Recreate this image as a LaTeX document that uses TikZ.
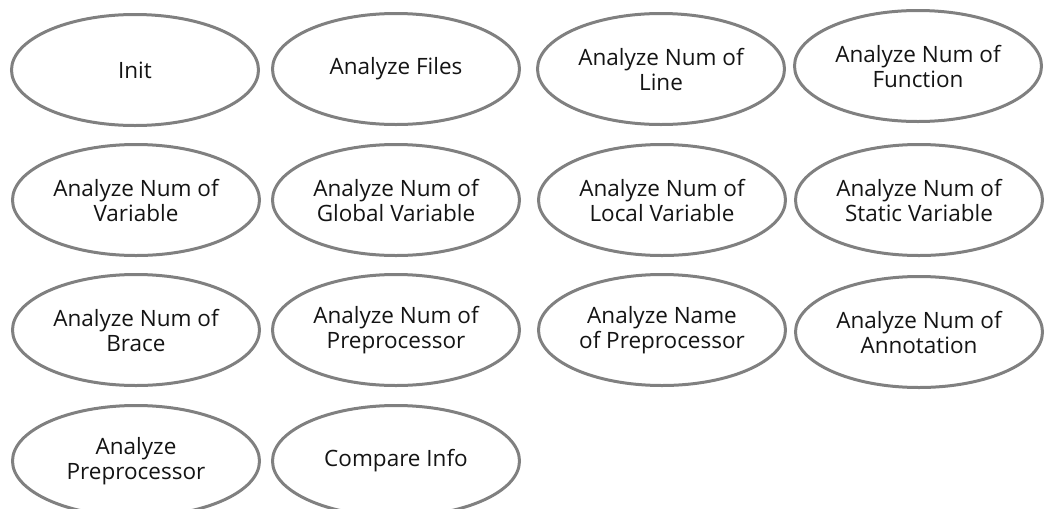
\documentclass[tikz,border=0pt]{standalone}
\usepackage{fontspec}
\setmainfont{Open Sans}
\usepackage{tikz}
\usetikzlibrary{shapes.geometric, positioning}
\definecolor{rimgray}{RGB}{128,128,128}
\definecolor{textblack}{RGB}{20,20,20}

\begin{document}
\begin{tikzpicture}[x=1pt, y=-1pt,
    step box/.style={ellipse, draw=rimgray, line width=3pt, fill=white,
        minimum width=247pt, minimum height=111pt, inner sep=0pt,
        align=center, text=textblack,
        font=\fontsize{22.5}{25}\selectfont}]
                        \useasboundingbox (0,0) rectangle (1053,509);
                        % first row
                        \node[step box] (init) at (135,70) {Init};
                        \node[step box] (files) at (396,69) {Analyze Files};
                        \node[step box] (line) at (661,69) {Analyze Num of\\Line};
                        \node[step box] (func) at (918,66) {Analyze Num of\\Function};
                        % second row
                        \node[step box] (var) at (136,200) {Analyze Num of\\Variable};
                        \node[step box] (gvar) at (396,200) {Analyze Num of\\Global Variable};
                        \node[step box] (lvar) at (662,200) {Analyze Num of\\Local Variable};
                        \node[step box] (svar) at (919,200) {Analyze Num of\\Static Variable};
                        % third row
                        \node[step box] (brace) at (136,330) {Analyze Num of\\Brace};
                        \node[step box] (npre) at (396,330) {Analyze Num of\\Preprocessor};
                        \node[step box] (namepre) at (662,330) {Analyze Name\\of Preprocessor};
                        \node[step box] (annot) at (919,332) {Analyze Num of\\Annotation};
                        % last row
                        \node[step box] (pre) at (136,461) {Analyze\\Preprocessor};
                        \node[step box] (cmp) at (396,461) {Compare Info};
                    \end{tikzpicture}
\end{document}
